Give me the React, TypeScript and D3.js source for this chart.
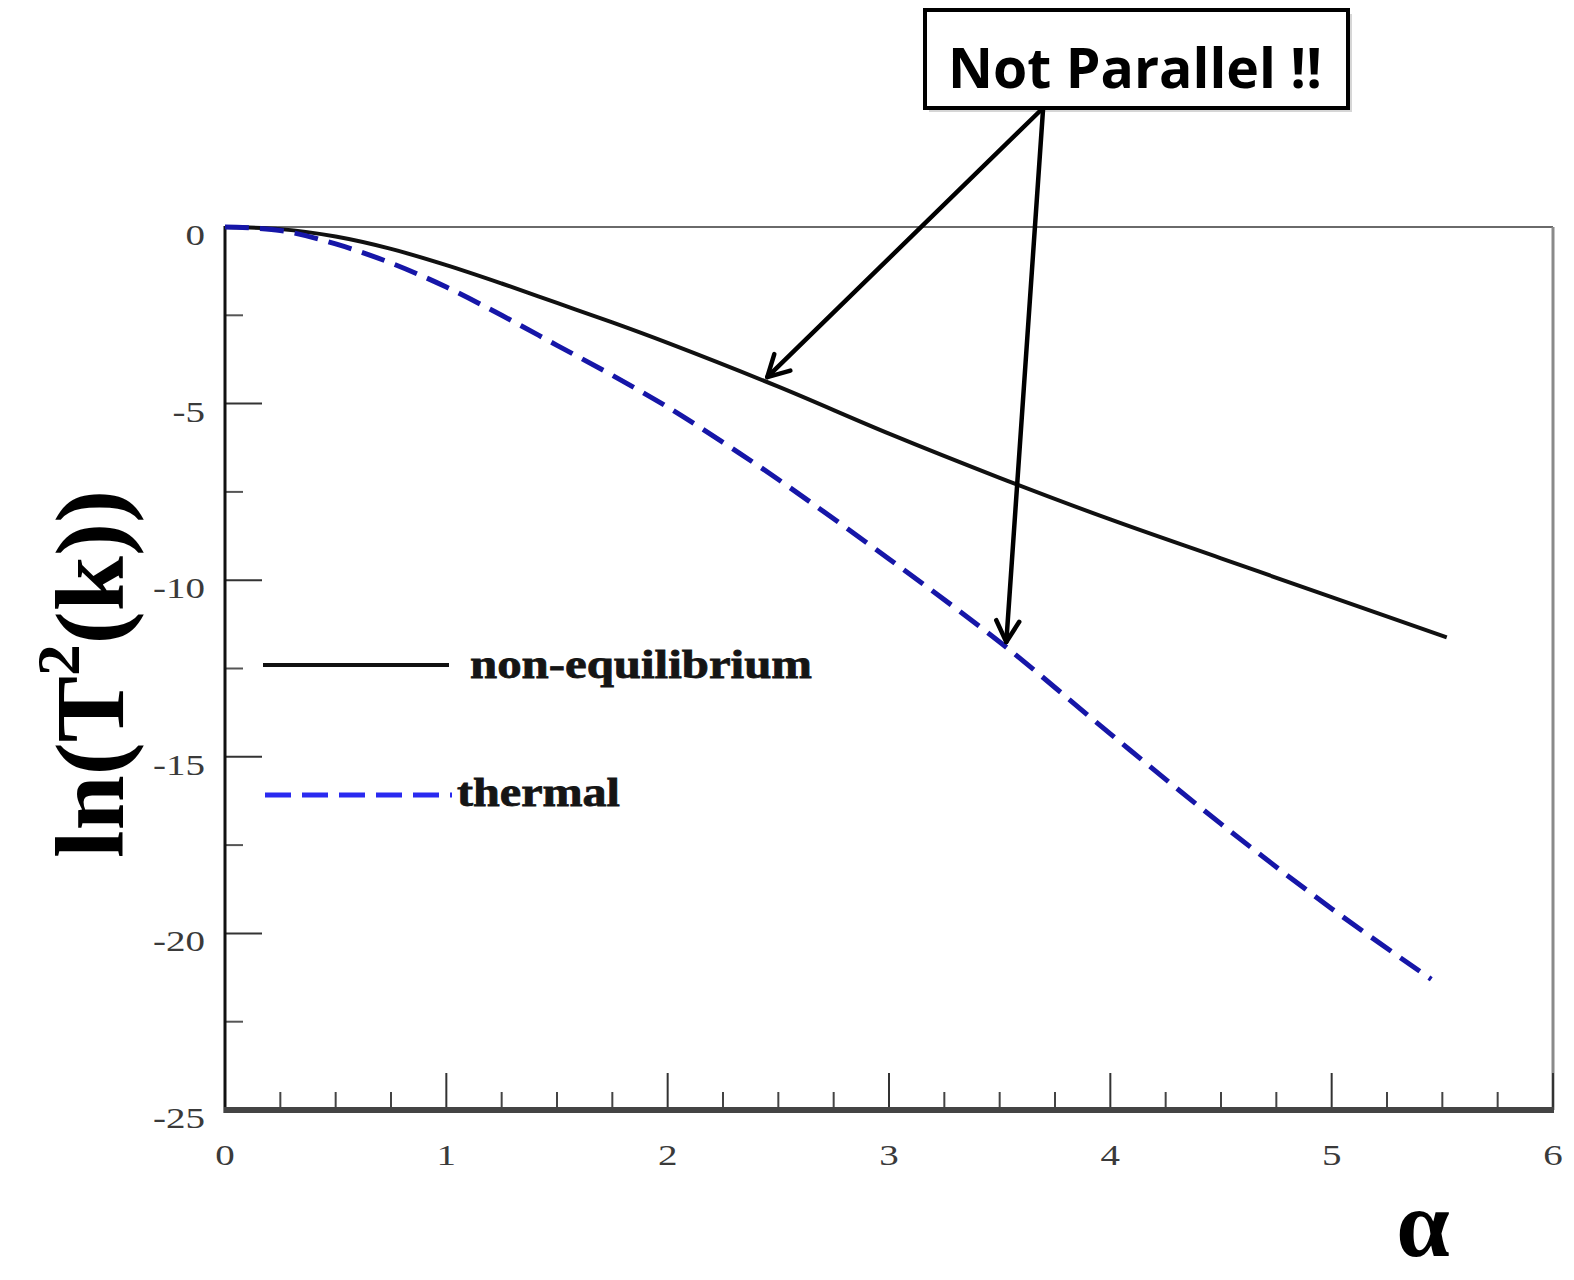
import React from "react";
import * as d3 from "d3";

// ln(T^2(k)) versus alpha for the two spectra
const nonEqAlpha = [0, 0.25, 0.5, 0.75, 1, 1.25, 1.5, 1.75, 2, 2.5, 3, 3.5, 4, 4.5, 5, 5.52];
const nonEqLnT2 = [0, -0.06, -0.27, -0.62, -1.08, -1.6, -2.15, -2.7, -3.28, -4.52, -5.85, -7.1, -8.28, -9.38, -10.48, -11.62];

const thermalAlpha = [0, 0.25, 0.5, 0.75, 1, 1.25, 1.5, 1.75, 2, 2.25, 2.5, 3, 3.5, 4, 4.5, 5, 5.45];
const thermalLnT2 = [0, -0.1, -0.48, -1.02, -1.7, -2.5, -3.35, -4.2, -5.1, -6.1, -7.15, -9.4, -11.75, -14.35, -16.9, -19.3, -21.3];

const xMajorTicks = [0, 1, 2, 3, 4, 5, 6];
const yMajorTicks = [0, -5, -10, -15, -20, -25];

const legendLabels = ["non-equilibrium", "thermal"];
const calloutText = "Not Parallel !!";
// points (alpha, lnT2) the callout arrows point at
const calloutTargets: [number, number][] = [
  [2.45, -4.25],
  [3.53, -11.75],
];

const W = 1574;
const H = 1280;
const plot = { left: 225, right: 1553, top: 227, bottom: 1110 };

const x = d3.scaleLinear().domain([0, 6]).range([plot.left, plot.right]);
const y = d3.scaleLinear().domain([-25, 0]).range([plot.bottom, plot.top]);

const xMinor = d3.range(0, 6.001, 0.25).filter((v) => Math.abs(v - Math.round(v)) > 1e-6);
const yMinor = d3.range(-2.5, -25, -5);

const line = d3
  .line<[number, number]>()
  .x((d) => x(d[0]))
  .y((d) => y(d[1]))
  .curve(d3.curveCatmullRom.alpha(0.5));

const nonEqPath = line(nonEqAlpha.map((a, i) => [a, nonEqLnT2[i]] as [number, number])) || "";
const thermalPath = line(thermalAlpha.map((a, i) => [a, thermalLnT2[i]] as [number, number])) || "";

const SERIF = "'Liberation Serif', 'DejaVu Serif', serif";
const SANS = "'Open Sans', 'Liberation Sans', sans-serif";

function Arrow({ x1, y1, x2, y2 }: { x1: number; y1: number; x2: number; y2: number }) {
  const ang = Math.atan2(y2 - y1, x2 - x1);
  const len = 24;
  const spread = 0.5;
  const p1 = [x2 - len * Math.cos(ang - spread), y2 - len * Math.sin(ang - spread)];
  const p2 = [x2 - len * Math.cos(ang + spread), y2 - len * Math.sin(ang + spread)];
  return (
    <g stroke="#000" strokeWidth={4.5} fill="none" strokeLinecap="round" strokeLinejoin="round">
      <line x1={x1} y1={y1} x2={x2} y2={y2} />
      <path d={`M${p1[0]},${p1[1]} L${x2},${y2} L${p2[0]},${p2[1]}`} />
    </g>
  );
}

export default function App() {
  const box = { x: 925, y: 10, w: 423, h: 98 };
  const arrowStart = [1041, box.y + box.h + 2];
  return (
    <svg
      width={W}
      height={H}
      viewBox={`0 0 ${W} ${H}`}
      style={{ position: "absolute", left: 0, top: 0, background: "#fff" }}
    >
      <rect x={0} y={0} width={W} height={H} fill="#fff" />

      {/* frame */}
      <line x1={plot.left} y1={plot.top} x2={plot.right} y2={plot.top} stroke="#6a6a6a" strokeWidth={2} />
      <line x1={plot.right} y1={plot.top} x2={plot.right} y2={plot.bottom} stroke="#8a8a8a" strokeWidth={3} />

      {/* y ticks */}
      {yMajorTicks.map((v) => (
        <line key={"ym" + v} x1={plot.left} x2={plot.left + 37} y1={y(v)} y2={y(v)} stroke="#333" strokeWidth={2} />
      ))}
      {yMinor.map((v) => (
        <line key={"yn" + v} x1={plot.left} x2={plot.left + 18} y1={y(v)} y2={y(v)} stroke="#555" strokeWidth={2} />
      ))}
      {/* x ticks */}
      {xMajorTicks.map((v) => (
        <line key={"xm" + v} x1={x(v)} x2={x(v)} y1={plot.bottom} y2={plot.bottom - 37} stroke="#333" strokeWidth={2} />
      ))}
      {xMinor.map((v) => (
        <line key={"xn" + v} x1={x(v)} x2={x(v)} y1={plot.bottom} y2={plot.bottom - 18} stroke="#444" strokeWidth={2} />
      ))}

      <line x1={plot.left} y1={plot.top - 1} x2={plot.left} y2={plot.bottom + 3} stroke="#111" strokeWidth={3} />
      <line x1={plot.left - 1} y1={plot.bottom} x2={plot.right + 1} y2={plot.bottom} stroke="#444" strokeWidth={6} />

      {/* tick labels */}
      {yMajorTicks.map((v) => (
        <text
          key={"yl" + v}
          transform={`translate(${plot.left - 20},${y(v) + 18}) scale(1.3,1)`}
          textAnchor="end"
          fontFamily={SERIF}
          fontSize={30}
          fill="#3a3a3a"
        >
          {v}
        </text>
      ))}
      {xMajorTicks.map((v) => (
        <text
          key={"xl" + v}
          transform={`translate(${x(v)},${plot.bottom + 55}) scale(1.3,1)`}
          textAnchor="middle"
          fontFamily={SERIF}
          fontSize={30}
          fill="#3a3a3a"
        >
          {v}
        </text>
      ))}

      {/* curves */}
      <path d={nonEqPath} fill="none" stroke="#111" strokeWidth={4} />
      <path d={thermalPath} fill="none" stroke="#1616a8" strokeWidth={5} strokeDasharray="24 11" />

      {/* legend */}
      <line x1={263} x2={449} y1={665} y2={665} stroke="#111" strokeWidth={4} />
      <text x={470} y={678} fontFamily={SERIF} fontWeight="bold" fontSize={40} fill="#151515" stroke="#151515" strokeWidth={0.8} textLength={342} lengthAdjust="spacingAndGlyphs">
        {legendLabels[0]}
      </text>
      <line x1={265} x2={452} y1={795} y2={795} stroke="#2a2af0" strokeWidth={5} strokeDasharray="26 11" />
      <text x={457} y={806} fontFamily={SERIF} fontWeight="bold" fontSize={40} fill="#151515" stroke="#151515" strokeWidth={0.8} textLength={163} lengthAdjust="spacingAndGlyphs">
        {legendLabels[1]}
      </text>

      {/* axis titles */}
      <text
        transform={`translate(123,858) rotate(-90)`}
        fontFamily={SERIF}
        fontWeight="bold"
        fontSize={97}
        fill="#000"
        textLength={368}
        lengthAdjust="spacingAndGlyphs"
      >
        ln(T<tspan dy={-44} fontSize={62}>2</tspan>
        <tspan dy={44}>(k))</tspan>
      </text>
      <text x={1423} y={1256} textAnchor="middle" fontFamily={SERIF} fontWeight="bold" fontSize={96} fill="#000">
        α
      </text>

      {/* callout */}
      <rect x={box.x + 4} y={box.y + 4} width={box.w} height={box.h} fill="#bbb" opacity={0.6} />
      <rect x={box.x} y={box.y} width={box.w} height={box.h} fill="#fff" stroke="#000" strokeWidth={4} />
      <text
        x={box.x + 23}
        y={box.y + 78}
        fontFamily={SANS}
        fontWeight="bold"
        fontSize={56}
        fill="#000"
        textLength={374}
        lengthAdjust="spacingAndGlyphs"
      >
        {calloutText}
      </text>
      {calloutTargets.map(([a, v], i) => (
        <Arrow key={"arr" + i} x1={arrowStart[0] + i * 2} y1={arrowStart[1]} x2={x(a)} y2={y(v)} />
      ))}
    </svg>
  );
}
